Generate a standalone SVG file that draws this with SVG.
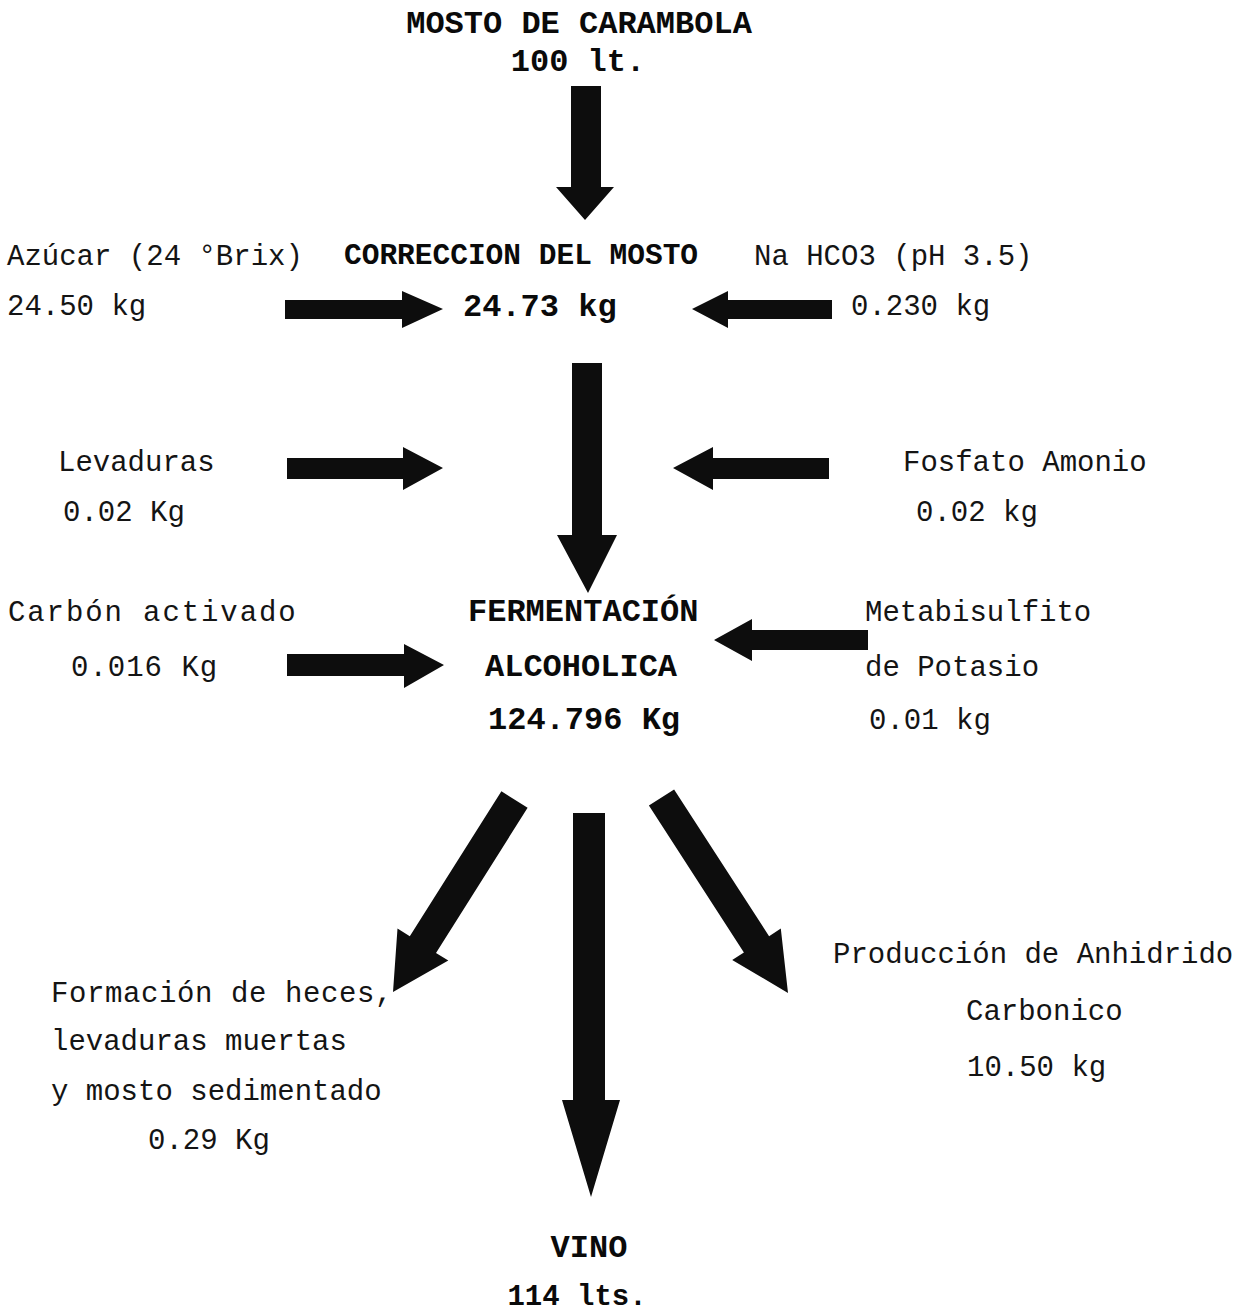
<svg xmlns="http://www.w3.org/2000/svg" width="1256" height="1315" viewBox="0 0 1256 1315">
<style>
  .t { font-family: "Liberation Mono", "DejaVu Sans Mono", monospace; font-size: 29px; fill: #141414; }
  .b { font-family: "Liberation Mono", "DejaVu Sans Mono", monospace; font-size: 32px; font-weight: bold; fill: #0a0a0a; }
  .arrow { fill: #0d0d0d; }
</style>
<rect width="1256" height="1315" fill="#ffffff"/>

<g id="connectors">
  <!-- vertical arrows -->
  <polygon class="arrow" points="571,86 601,86 601,187 614,187 585,220 556,187 571,187"/>
  <polygon class="arrow" points="572,363 602,363 602,535 617,535 588,593 557,535 572,535"/>
  <polygon class="arrow" points="573,813 605,813 605,1100 620,1100 591,1197 562,1100 573,1100"/>
  <!-- row 1 -->
  <polygon class="arrow" points="285,300 402,300 402,291 443,309 402,328 402,319 285,319"/>
  <polygon class="arrow" points="832,300 728,300 728,291 692,309 728,328 728,319 832,319"/>
  <!-- row 2 -->
  <polygon class="arrow" points="287,458 403,458 403,447 443,468 403,490 403,479 287,479"/>
  <polygon class="arrow" points="829,458 713,458 713,447 673,468 713,490 713,479 829,479"/>
  <!-- row 3 -->
  <polygon class="arrow" points="287,654 404,654 404,644 444,665 404,688 404,676 287,676"/>
  <polygon class="arrow" points="868,630 752,630 752,619 714,640 752,661 752,650 868,650"/>
  <!-- diagonal outputs -->
  <polygon class="arrow" points="527.6,807.8 501.4,791.2 409.8,936.3 397.5,928.6 393,992 448.3,960.6 436,952.9"/>
  <polygon class="arrow" points="648.9,805.6 674.1,789.4 769.1,936.2 780.8,928.6 788,993 732.2,960 743.9,952.4"/>
</g>

<g id="mosto">
  <text class="b" x="579" y="33" text-anchor="middle">MOSTO DE CARAMBOLA</text>
  <text class="b" x="578" y="71" text-anchor="middle">100 lt.</text>
</g>

<g id="azucar">
  <text class="t" x="7" y="265">Azúcar (24 °Brix)</text>
  <text class="t" x="7" y="315">24.50 kg</text>
</g>

<g id="correccion">
  <text class="b" x="344" y="264" style="font-size:29.5px">CORRECCION DEL MOSTO</text>
  <text class="b" x="463" y="316">24.73 kg</text>
</g>

<g id="nahco3">
  <text class="t" x="754" y="265">Na HCO3 (pH 3.5)</text>
  <text class="t" x="851" y="315">0.230 kg</text>
</g>

<g id="levaduras">
  <text class="t" x="58" y="471">Levaduras</text>
  <text class="t" x="63" y="521">0.02 Kg</text>
</g>

<g id="fosfato">
  <text class="t" x="903" y="471">Fosfato Amonio</text>
  <text class="t" x="916" y="521">0.02 kg</text>
</g>

<g id="carbon">
  <text class="t" x="8" y="621" letter-spacing="1.9">Carbón activado</text>
  <text class="t" x="71" y="676" letter-spacing="1">0.016 Kg</text>
</g>

<g id="fermentacion">
  <text class="b" x="468" y="621">FERMENTACIÓN</text>
  <text class="b" x="485" y="676">ALCOHOLICA</text>
  <text class="b" x="488" y="729">124.796 Kg</text>
</g>

<g id="metabisulfito">
  <text class="t" x="865" y="621">Metabisulfito</text>
  <text class="t" x="865" y="676">de Potasio</text>
  <text class="t" x="869" y="729">0.01 kg</text>
</g>

<g id="heces">
  <text class="t" x="51" y="1002" letter-spacing="0.6">Formación de heces,</text>
  <text class="t" x="51" y="1050">levaduras muertas</text>
  <text class="t" x="51" y="1100">y mosto sedimentado</text>
  <text class="t" x="148" y="1149">0.29 Kg</text>
</g>

<g id="anhidrido">
  <text class="t" x="833" y="963">Producción de Anhidrido</text>
  <text class="t" x="966" y="1020">Carbonico</text>
  <text class="t" x="967" y="1076">10.50 kg</text>
</g>

<g id="vino">
  <text class="b" x="589" y="1257" text-anchor="middle">VINO</text>
  <text class="b" x="577" y="1305" text-anchor="middle" style="font-size:29px">114 lts.</text>
</g>
</svg>
